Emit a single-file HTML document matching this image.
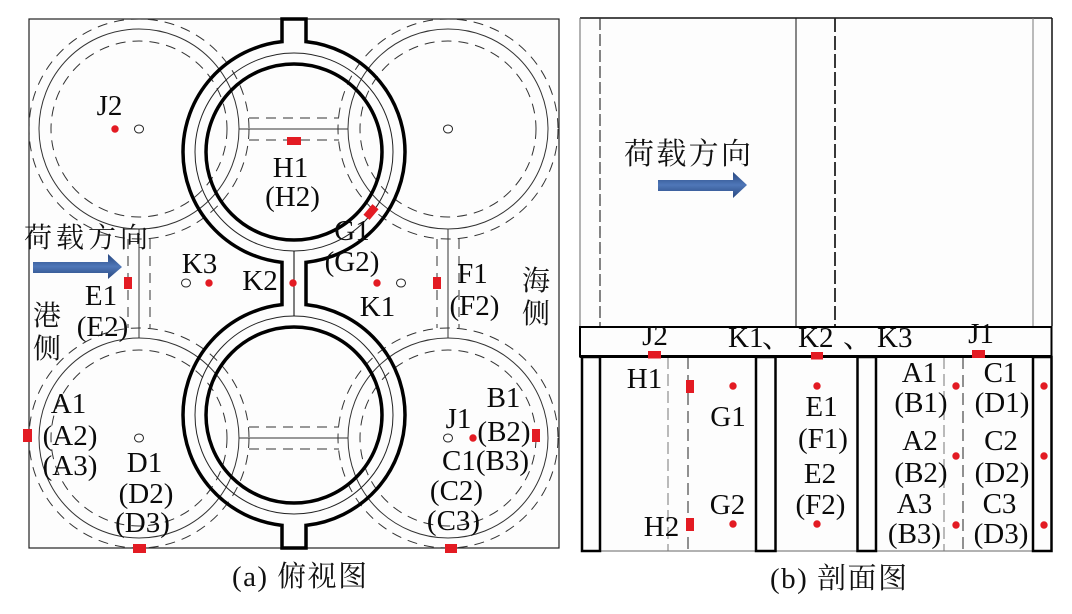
<!DOCTYPE html>
<html><head><meta charset="utf-8"><style>
html,body{margin:0;padding:0;background:#fff;}
svg{display:block;}
.t{font-family:"Liberation Serif","Noto Serif CJK SC",serif;font-size:29px;fill:#0a0a0a;}
.c{font-family:"Liberation Serif","Noto Serif CJK SC",serif;fill:#111;}
</style></head><body>
<svg width="1072" height="614" viewBox="0 0 1072 614" xmlns="http://www.w3.org/2000/svg">
<defs>
<clipPath id="cl"><rect x="29" y="19" width="530" height="529"/></clipPath>
<linearGradient id="ag" x1="0" y1="0" x2="0" y2="1">
<stop offset="0" stop-color="#27467f"/><stop offset="0.5" stop-color="#4f77b8"/><stop offset="1" stop-color="#27467f"/>
</linearGradient>
</defs>
<rect width="1072" height="614" fill="#fff"/>

<!-- ============ LEFT PANEL ============ -->
<rect x="29" y="19" width="530" height="529" fill="#fdfdfd" stroke="#222" stroke-width="1.2"/>
<g clip-path="url(#cl)" fill="none" stroke="#333" stroke-width="1">
  <circle cx="139" cy="129" r="100"/>
  <circle cx="139" cy="129" r="88" stroke-dasharray="10 7"/>
  <circle cx="139" cy="129" r="110" stroke-dasharray="10 7"/>
  <circle cx="448" cy="129" r="100"/>
  <circle cx="448" cy="129" r="88" stroke-dasharray="10 7"/>
  <circle cx="448" cy="129" r="110" stroke-dasharray="10 7"/>
  <circle cx="139" cy="438" r="100"/>
  <circle cx="139" cy="438" r="88" stroke-dasharray="10 7"/>
  <circle cx="139" cy="438" r="110" stroke-dasharray="10 7"/>
  <circle cx="448" cy="438" r="100"/>
  <circle cx="448" cy="438" r="88" stroke-dasharray="10 7"/>
  <circle cx="448" cy="438" r="110" stroke-dasharray="10 7"/>
  <path d="M239,129 H348 M239,438 H348"/>
  <path d="M249,118 H339 M249,140 H339 M249,427 H339 M249,449 H339" stroke-dasharray="10 7"/>
  <path d="M139,229 V338 M448,229 V338"/>
  <path d="M128,239 V328 M150,239 V328 M437,239 V328 M459,239 V328" stroke-dasharray="10 7"/>
</g>
<g fill="none" stroke="#000">
  <path d="M282,19 H306 V41.65 A111,111 0 0 1 306,262.35 V304.65 A111,111 0 0 1 306,525.35 V548 H282 V525.35 A111,111 0 0 1 282,304.65 V262.35 A111,111 0 0 1 282,41.65 Z" stroke-width="3.5"/>
  <circle cx="294" cy="152" r="88" stroke-width="3.5"/>
  <circle cx="294" cy="415" r="88" stroke-width="3.5"/>
  <circle cx="294" cy="152" r="99" stroke-width="1" stroke="#222"/>
  <circle cx="294" cy="415" r="99" stroke-width="1" stroke="#222"/>
  <path d="M294,251 V316" stroke-width="1"/>
</g>
<g fill="#fff" stroke="#222" stroke-width="1">
  <ellipse cx="139" cy="129" rx="4.5" ry="4"/>
  <ellipse cx="448" cy="129" rx="4.5" ry="4"/>
  <ellipse cx="139" cy="438" rx="4.5" ry="4"/>
  <ellipse cx="448" cy="438" rx="4.5" ry="4"/>
  <ellipse cx="186" cy="283" rx="4.5" ry="4"/>
  <ellipse cx="401" cy="283" rx="4.5" ry="4"/>
</g>
<g fill="#e31b23">
  <circle cx="115" cy="129" r="3.7"/>
  <circle cx="209" cy="283" r="3.7"/>
  <circle cx="293" cy="283" r="3.7"/>
  <circle cx="377" cy="283" r="3.7"/>
  <circle cx="473" cy="438" r="3.7"/>
  <rect x="287" y="137" width="14" height="8"/>
  <rect x="-7" y="-4" width="14" height="8" transform="translate(371,212) rotate(-50)"/>
  <rect x="124" y="277" width="8" height="12"/>
  <rect x="433" y="277" width="8" height="12"/>
  <rect x="23" y="429" width="9" height="13"/>
  <rect x="532" y="429" width="8" height="13"/>
  <rect x="133" y="544" width="13" height="9"/>
  <rect x="445" y="544" width="12" height="9"/>
</g>
<polygon points="33,262 108,262 108,254 122,267 108,279 108,273 33,273" fill="url(#ag)"/>
<g class="t" text-anchor="middle">
  <text x="109.5" y="115">J2</text>
  <text x="290.5" y="177">H1</text>
  <text x="292.5" y="206">(H2)</text>
  <text x="352" y="240">G1</text>
  <text x="352" y="271">(G2)</text>
  <text x="199.5" y="273">K3</text>
  <text x="260" y="290">K2</text>
  <text x="377.5" y="316">K1</text>
  <text x="101" y="305">E1</text>
  <text x="102.5" y="336">(E2)</text>
  <text x="472.5" y="283">F1</text>
  <text x="474.5" y="315">(F2)</text>
  <text x="68.5" y="413">A1</text>
  <text x="70" y="445">(A2)</text>
  <text x="70" y="475">(A3)</text>
  <text x="144.5" y="472">D1</text>
  <text x="146" y="503">(D2)</text>
  <text x="142.5" y="532">(D3)</text>
  <text x="503.5" y="407">B1</text>
  <text x="504" y="441">(B2)</text>
  <text x="458.5" y="428">J1</text>
  <text x="485.5" y="470">C1(B3)</text>
  <text x="456.5" y="500">(C2)</text>
  <text x="453.5" y="530">(C3)</text>
</g>
<g class="c" font-size="28">
  <text x="24" y="247" textLength="124" lengthAdjust="spacing">荷载方向</text>
  <text x="33" y="325">港</text>
  <text x="33" y="358">侧</text>
  <text x="522" y="290">海</text>
  <text x="522" y="323">侧</text>
</g>
<text class="c" x="232" y="586" font-size="29" fill="#333" textLength="135" lengthAdjust="spacing">(a) 俯视图</text>

<!-- ============ RIGHT PANEL ============ -->
<rect x="580" y="18" width="472" height="308" fill="#fdfdfd"/>
<g fill="none">
  <path d="M580,18 H1052" stroke="#111" stroke-width="1.5"/>
  <path d="M580,18 V326" stroke="#666" stroke-width="1"/>
  <path d="M1052,18 V326" stroke="#111" stroke-width="1.5"/>
  <path d="M600,18 V326" stroke="#333" stroke-width="1.2" stroke-dasharray="12 4"/>
  <path d="M796,18 V326" stroke="#111" stroke-width="1"/>
  <path d="M835,18 V326" stroke="#222" stroke-width="1.8" stroke-dasharray="14 4"/>
  <path d="M1033,18 V326" stroke="#777" stroke-width="1"/>
</g>
<rect x="581" y="357" width="471" height="194" fill="#fdfdfd"/>
<path d="M581,551 H1052" stroke="#666" stroke-width="1"/>
<g fill="none">
  <path d="M668,357 V551" stroke="#777" stroke-width="1" stroke-dasharray="12 5"/>
  <path d="M688,357 V551" stroke="#222" stroke-width="1" stroke-dasharray="12 6"/>
  <path d="M944,357 V551" stroke="#777" stroke-width="1" stroke-dasharray="12 5"/>
  <path d="M963,357 V551" stroke="#222" stroke-width="1" stroke-dasharray="12 6"/>
</g>
<g fill="#fdfdfd" stroke="#000" stroke-width="2.5">
  <rect x="582" y="357" width="18" height="194"/>
  <rect x="756" y="357" width="19.5" height="194"/>
  <rect x="857.5" y="357" width="18.5" height="194"/>
  <rect x="1033" y="357" width="18.5" height="194"/>
</g>
<rect x="580" y="327" width="471.5" height="29.5" fill="#fdfdfd" stroke="#000" stroke-width="2"/>
<path d="M580,356.5 H1052" stroke="#000" stroke-width="3"/>
<g fill="#e31b23">
  <rect x="648" y="351" width="13" height="7.5"/>
  <rect x="811" y="352" width="12" height="7.5"/>
  <rect x="972" y="350" width="13" height="8"/>
  <rect x="686" y="380" width="8" height="13"/>
  <rect x="686" y="518" width="8" height="13"/>
  <circle cx="733" cy="386" r="3.7"/>
  <circle cx="733" cy="524" r="3.7"/>
  <circle cx="817" cy="386" r="3.7"/>
  <circle cx="817" cy="524" r="3.7"/>
  <circle cx="956" cy="386" r="3.7"/>
  <circle cx="956" cy="456" r="3.7"/>
  <circle cx="956" cy="525" r="3.7"/>
  <circle cx="1044" cy="386" r="3.7"/>
  <circle cx="1044" cy="456" r="3.7"/>
  <circle cx="1044" cy="525" r="3.7"/>
</g>
<polygon points="658,180 733,180 733,172 747,185 733,198 733,191 658,191" fill="url(#ag)"/>
<text class="c" x="624" y="164" font-size="30" textLength="127" lengthAdjust="spacing">荷载方向</text>
<g class="t" text-anchor="middle">
  <text x="655" y="345">J2</text>
  <text x="981" y="343">J1</text>
  <text x="644.5" y="388">H1</text>
  <text x="661.5" y="536">H2</text>
  <text x="728" y="426">G1</text>
  <text x="727.5" y="514">G2</text>
  <text x="821.5" y="416">E1</text>
  <text x="823" y="448">(F1)</text>
  <text x="820" y="483">E2</text>
  <text x="820.5" y="514">(F2)</text>
  <text x="919.5" y="382">A1</text>
  <text x="921" y="412">(B1)</text>
  <text x="920" y="450">A2</text>
  <text x="921" y="482">(B2)</text>
  <text x="914.5" y="513">A3</text>
  <text x="914.5" y="543">(B3)</text>
  <text x="1000.5" y="382">C1</text>
  <text x="1002" y="412">(D1)</text>
  <text x="1001" y="450">C2</text>
  <text x="1002" y="482">(D2)</text>
  <text x="999.5" y="513">C3</text>
  <text x="1001" y="543">(D3)</text>
</g>
<g class="t">
  <text x="728" y="347">K1</text>
  <text x="762" y="347">、</text>
  <text x="798" y="347">K2</text>
  <text x="843" y="347">、</text>
  <text x="877" y="347">K3</text>
</g>
<text class="c" x="770" y="588" font-size="29" fill="#333" textLength="137" lengthAdjust="spacing">(b) 剖面图</text>
</svg>
</body></html>
